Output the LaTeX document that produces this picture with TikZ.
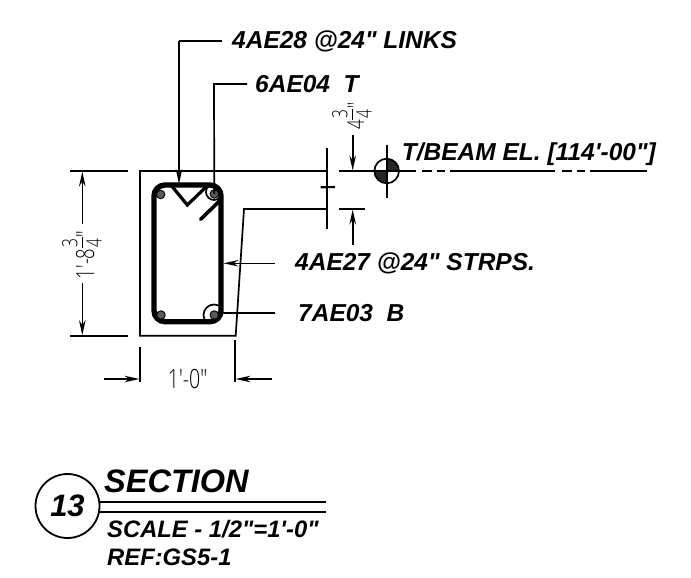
\documentclass[tikz,border=0pt]{standalone}
\usepackage{fontspec}
\setmainfont{Liberation Sans}
\newfontfamily\lbl{Liberation Sans}
\newfontfamily\cad[FakeStretch=0.74,UprightFont=* Light]{Open Sans}
\usetikzlibrary{arrows.meta}
\newcommand{\fr}[2]{\raisebox{-7.5pt}{\shortstack[c]{\fontsize{21}{21}\selectfont #1\\[1pt]\rule{11pt}{1pt}\\[1pt]\fontsize{21}{21}\selectfont #2}}}
\tikzset{
  ln/.style={line width=1.7pt,line cap=butt},
  dimarrow/.style={line width=1.6pt,-{Stealth[length=15pt,width=6.5pt]}},
  lead/.style={anchor=base west,inner sep=0pt,font=\lbl\bfseries\itshape\fontsize{24.5}{25}\selectfont},
  cadtxt/.style={inner sep=0pt,font=\cad\fontsize{26.5}{26.5}\selectfont,text=black},
  bar/.style={circle,draw=black,fill=black!65,line width=0.9pt,minimum size=8.5pt,inner sep=0pt},
}
\begin{document}
\begin{tikzpicture}[x=1pt,y=-1pt]
\useasboundingbox (0,0) rectangle (691,578);
\fill[white] (0,0) rectangle (691,578);
% beam outline
\coordinate (tl) at (140,171); \coordinate (tr) at (327,171);
\coordinate (bl) at (140,335.7); \coordinate (br) at (235.7,335.7);
\coordinate (nk) at (244,209); \coordinate (nr) at (327,209);
\draw[ln] (tr) -- (tl) -- (bl) -- (br) -- (nk) -- (nr);
% break line
\coordinate (b1) at (327.3,147.7); \coordinate (b2) at (327.3,229);
\draw[ln] (b1) -- (b2);
\draw[line width=2.2pt] (320.7,187.3) -- (335,187);
% rebar circles, cut off by the stirrup
\begin{scope}
\clip[rounded corners=11pt] (154,185) rectangle (221,321.7);
\node[circle,draw,line width=1.7pt,minimum size=16pt,inner sep=0pt] (ct) at (214,192) {};
\node[circle,draw,line width=1.7pt,minimum size=21pt,inner sep=0pt] (cb) at (214,315) {};
\end{scope}
% stirrup
\draw[line width=5.4pt,rounded corners=11pt] (154,185) rectangle (221,321.7);
% link
\draw[line width=3.2pt,line join=miter] (171.7,186) -- (187.3,205) -- (206,187);
\draw[line width=3.6pt,line cap=round] (200.7,219.3) -- (219,201.5);
% bars
\node[bar] (b_tl) at (160.7,194.5) {};
\node[bar] (b_tr) at (214.3,194) {};
\node[bar] (b_bl) at (161,315) {};
\node[bar] (b_br) at (214.3,315) {};
% leaders
\node[lead] (l1) at (232,49) {4AE28 @24" LINKS};
\node[lead] (l2) at (255,92.5) {6AE04\ \ T};
\node[lead] (l3) at (295,270.5) {4AE27 @24" STRPS.};
\node[lead] (l4) at (298,321.5) {7AE03\ \ B};
\coordinate (c1) at (179,41); \coordinate (c1e) at (179,184);
\coordinate (c1s) at (222,41);
\draw[ln] (c1s) -- (c1);
\draw[dimarrow] (c1) -- (c1e);
\coordinate (c2) at (214,84); \coordinate (c2s) at (247,84);
\draw[ln] (c2s) -- (c2) -- (b_tr.center);
\coordinate (c3s) at (275,263.3); \coordinate (c3e) at (223.5,263.3);
\draw[dimarrow] (c3s) -- (c3e);
\coordinate (c4s) at (275,313);
\draw[ln] (c4s) -- (b_br.east |- c4s);
% left dimension
\coordinate (e1a) at (70,171); \coordinate (e1b) at (128.3,171);
\coordinate (e2a) at (70,335.7); \coordinate (e2b) at (128.3,335.7);
\draw[ln] (e1a) -- (e1b); \draw[ln] (e2a) -- (e2b);
\node[cadtxt,rotate=90,font=\cad\fontsize{25}{25}\selectfont] (dimL) at (82,255) {1'-8\fr{3}{4}"};
\coordinate (a1s) at (82.3,224); \coordinate (a1e) at (82.3,171.5);
\coordinate (a2s) at (82.3,282.7); \coordinate (a2e) at (82.3,335.2);
\draw[dimarrow] (a1s) -- (a1e); \draw[dimarrow] (a2s) -- (a2e);
% bottom dimension
\coordinate (v1a) at (140,347); \coordinate (v1b) at (140,382);
\coordinate (v2a) at (235,340); \coordinate (v2b) at (235,382);
\draw[ln] (v1a) -- (v1b); \draw[ln] (v2a) -- (v2b);
\node[cadtxt] (dimB) at (187.5,379) {1'-0"};
\coordinate (h1) at (104,379); \coordinate (h1e) at (139.5,379);
\coordinate (h2) at (272,379); \coordinate (h2e) at (235.5,379);
\draw[dimarrow] (h1) -- (h1e); \draw[dimarrow] (h2) -- (h2e);
% right dimension
\draw[ln] (339,171) -- (365,171);
\draw[ln] (339,209) -- (365,209);
\coordinate (r1) at (352.7,135); \coordinate (r1e) at (352.7,170.5);
\coordinate (r2) at (352.7,245); \coordinate (r2e) at (352.7,209.5);
\draw[dimarrow] (r1) -- (r1e); \draw[dimarrow] (r2) -- (r2e);
\node[cadtxt,rotate=90,font=\cad\fontsize{23}{23}\selectfont] (dimR) at (352,116) {4\fr{3}{4}"};
% elevation marker
\begin{scope}
\clip (386.7,171) circle[radius=12.3];
\fill[black!85] (386.7,171) rectangle (400,158);
\fill[black!85] (386.7,171) rectangle (373,184);
\end{scope}
\node[circle,draw,line width=1.7pt,minimum size=24.6pt,inner sep=0pt] (em) at (386.7,171) {};
\coordinate (ev1) at (386.7,145); \coordinate (ev2) at (386.7,198.3);
\draw[ln] (ev1) -- (ev2);
\draw[ln] (365,171) -- (416,171);
\draw[ln] (421.7,171) -- (431.7,171);
\draw[ln] (436.7,171) -- (445,171);
\draw[ln] (450,171) -- (555,171);
\draw[ln] (561.7,171) -- (571.7,171);
\draw[ln] (576.7,171) -- (585,171);
\draw[ln] (590,171) -- (646.7,171);
\node[lead] (el) at (401.7,160.7) {T/BEAM EL. [114'-00"]};
% title block
\node[circle,draw,line width=1.8pt,minimum size=64pt,inner sep=0pt,font=\lbl\bfseries\itshape\fontsize{31}{31}\selectfont] (num) at (67.5,506) {13};
\coordinate (t1s) at (num.east |- 0,501.7); \coordinate (t1e) at (325.7,501.7);
\coordinate (t2s) at (num.east |- 0,512.3); \coordinate (t2e) at (325.7,512.3);
\draw[ln] (t1s) -- (t1e); \draw[ln] (t2s) -- (t2e);
\node[lead,font=\lbl\bfseries\itshape\fontsize{32.5}{33}\selectfont] (sec) at (104,492.7) {SECTION};
\node[lead,font=\lbl\bfseries\itshape\fontsize{23.8}{24}\selectfont] (sc) at (107,537.3) {SCALE - 1/2"=1'-0"};
\node[lead,font=\lbl\bfseries\itshape\fontsize{23.8}{24}\selectfont] (ref) at (107,565.5) {REF:GS5-1};
\end{tikzpicture}
\end{document}
